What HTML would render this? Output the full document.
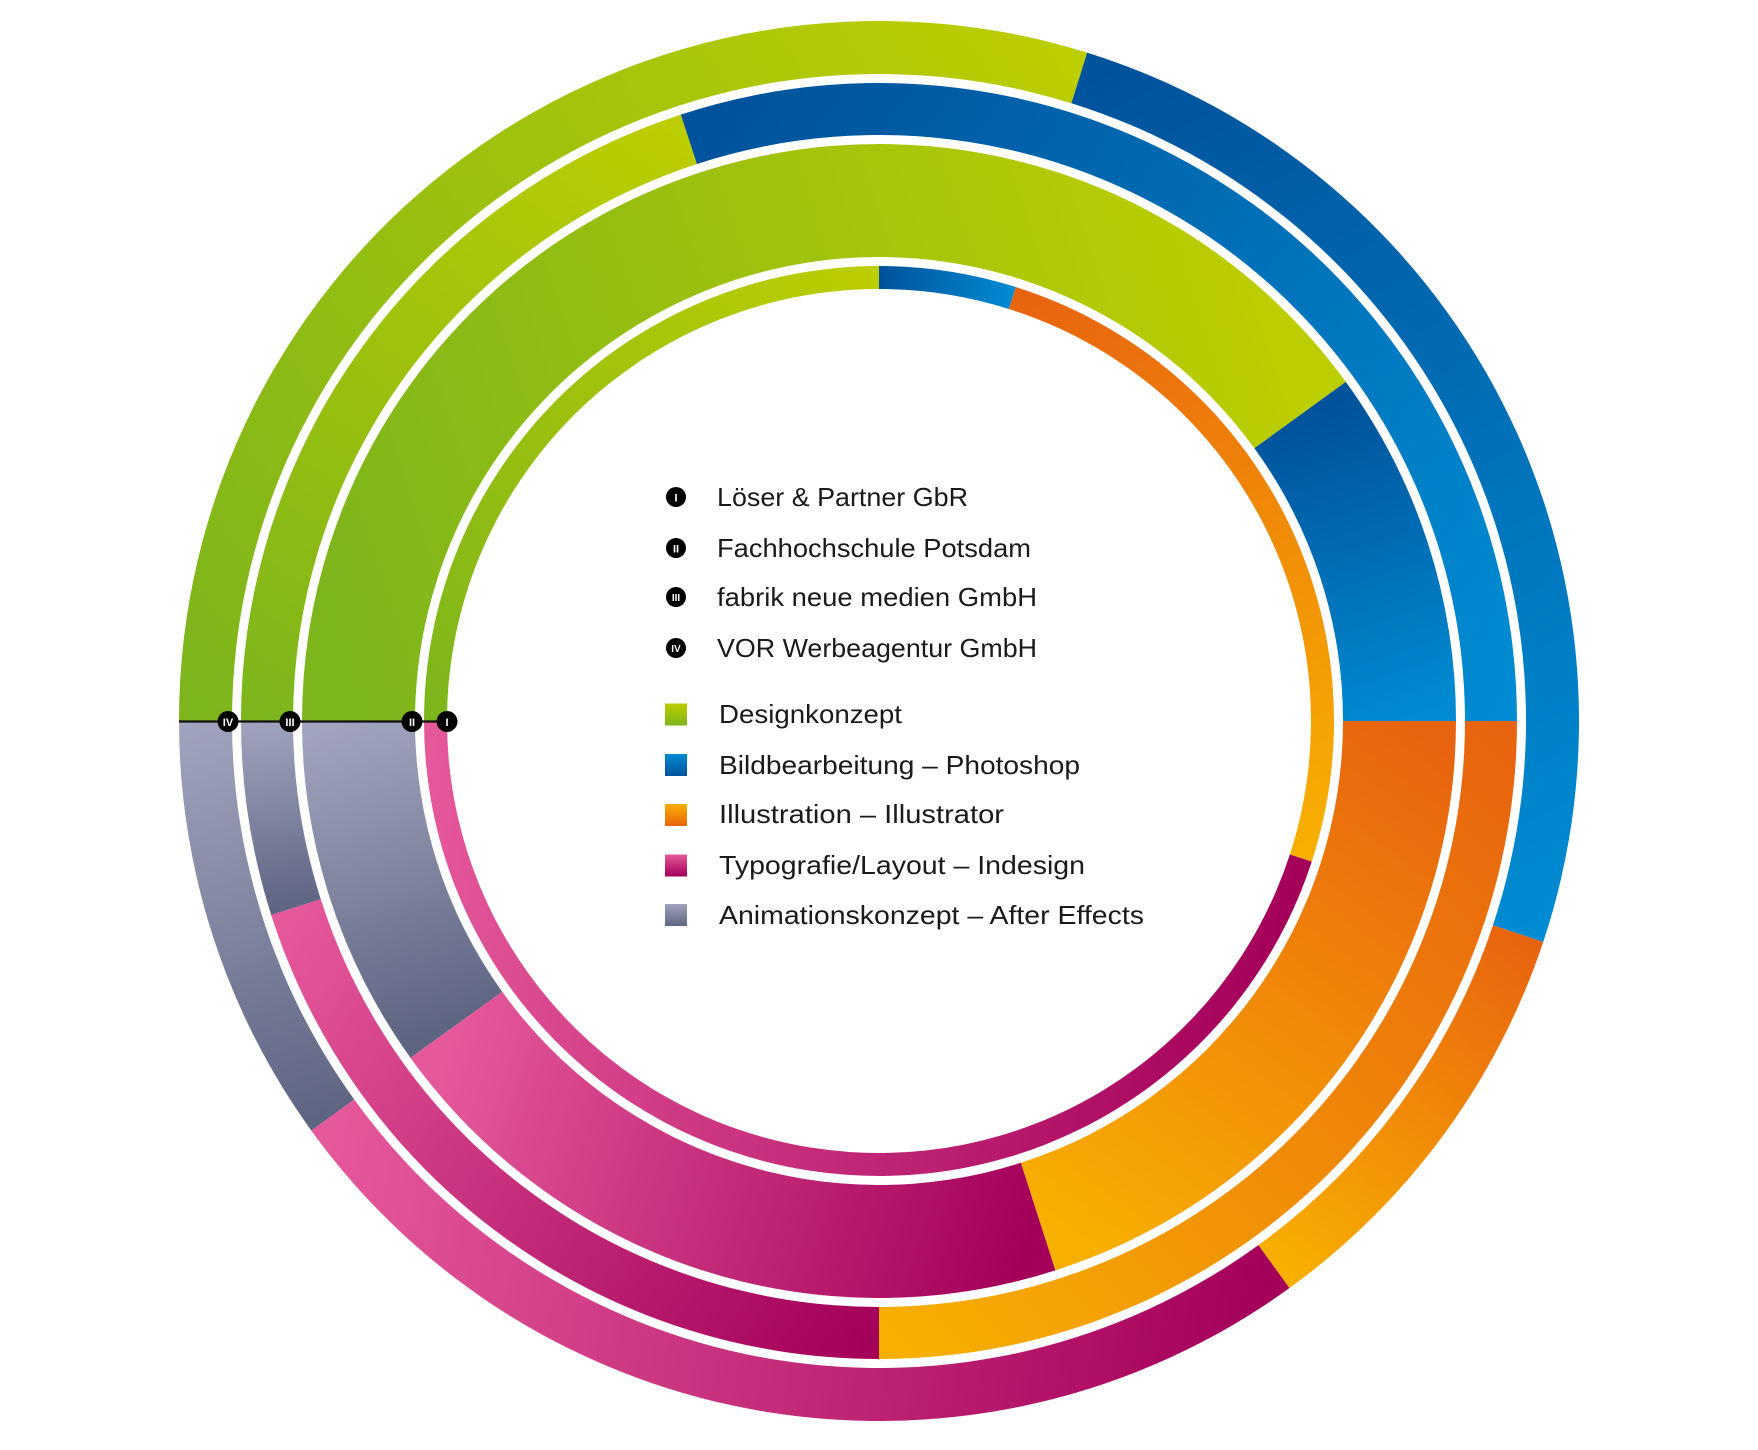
<!DOCTYPE html>
<html><head><meta charset="utf-8"><style>html,body{margin:0;padding:0;background:#fff}svg{display:block}</style></head>
<body>
<svg id="s" width="1758" height="1450" viewBox="0 0 1758 1450" xmlns="http://www.w3.org/2000/svg">
<defs id="d"></defs>
<g id="rings"></g>
<line x1="179" y1="721.5" x2="447" y2="721.5" stroke="#111" stroke-width="2.2"/>
<g font-family="Liberation Sans, sans-serif" font-weight="bold" fill="#fff" text-anchor="middle">
<circle cx="228" cy="721.5" r="10.5" fill="#000"/><text x="228" y="726" font-size="11">IV</text>
<circle cx="290" cy="721.5" r="10.5" fill="#000"/><text x="290" y="726" font-size="11">III</text>
<circle cx="412" cy="721.5" r="10.5" fill="#000"/><text x="412" y="726" font-size="11">II</text>
<circle cx="447" cy="721.5" r="10.5" fill="#000"/><text x="447" y="726" font-size="11">I</text>
<circle cx="676" cy="497" r="10" fill="#000"/><text x="676" y="501.5" font-size="11">I</text>
<circle cx="676" cy="548" r="10" fill="#000"/><text x="676" y="552.5" font-size="11">II</text>
<circle cx="676" cy="597" r="10" fill="#000"/><text x="676" y="601" font-size="10">III</text>
<circle cx="676" cy="648" r="10" fill="#000"/><text x="676" y="652" font-size="10">IV</text>
</g>
<g font-family="Liberation Sans Narrow, Liberation Sans, sans-serif" font-size="26" fill="#1a1a1a">
<text x="717" y="506" textLength="251" lengthAdjust="spacingAndGlyphs">Löser &amp; Partner GbR</text>
<text x="717" y="557" textLength="314" lengthAdjust="spacingAndGlyphs">Fachhochschule Potsdam</text>
<text x="717" y="606" textLength="320" lengthAdjust="spacingAndGlyphs">fabrik neue medien GmbH</text>
<text x="717" y="657" textLength="320" lengthAdjust="spacingAndGlyphs">VOR Werbeagentur GmbH</text>
<text x="719" y="723" textLength="183" lengthAdjust="spacingAndGlyphs">Designkonzept</text>
<text x="719" y="774" textLength="361" lengthAdjust="spacingAndGlyphs">Bildbearbeitung – Photoshop</text>
<text x="719" y="823" textLength="285" lengthAdjust="spacingAndGlyphs">Illustration – Illustrator</text>
<text x="719" y="874" textLength="366" lengthAdjust="spacingAndGlyphs">Typografie/Layout  – Indesign</text>
<text x="719" y="924" textLength="425" lengthAdjust="spacingAndGlyphs">Animationskonzept – After Effects</text>
</g>
<g id="sq"></g>
</svg>
<script>
var cx=879,cy=721,NS="http://www.w3.org/2000/svg";
var C={g:["#7db51c","#bccd00"],b:["#00529b","#008bd2"],o:["#e8630f","#f8b000"],m:["#a4005a","#e5589a"],a:["#5e6582","#a0a3bd"]};
var rings=[
 [432,455,[["g",270,360],["b",0,17.5],["o",17.5,108],["m",108,270]]],
 [464,577,[["g",270,414],["b",54,90],["o",90,162.2],["m",162.2,234.3],["a",234.3,270]]],
 [586,638,[["g",270,341.9],["b",341.9,450],["o",90,180],["m",180,252.3],["a",252.3,270]]],
 [647,700,[["g",270,377.3],["b",17.3,108.4],["o",108.4,144.1],["m",144.1,234.2],["a",234.2,270]]]
];
function pt(r,a){a=a*Math.PI/180;return [cx+r*Math.sin(a),cy-r*Math.cos(a)];}
var defs=document.getElementById('d'),G=document.getElementById('rings'),n=0;
rings.forEach(function(R){var r0=R[0],r1=R[1],rm=(r0+r1)/2;
 R[2].forEach(function(s){var k=s[0],a0=s[1],a1=s[2];
  var p=pt(rm,a0),q=pt(rm,a1);
  var id="gr"+(n++);var lg=document.createElementNS(NS,"linearGradient");
  lg.setAttribute("id",id);lg.setAttribute("gradientUnits","userSpaceOnUse");
  lg.setAttribute("x1",p[0]);lg.setAttribute("y1",p[1]);lg.setAttribute("x2",q[0]);lg.setAttribute("y2",q[1]);
  lg.innerHTML='<stop offset="0" stop-color="'+C[k][0]+'"/><stop offset="1" stop-color="'+C[k][1]+'"/>';
  defs.appendChild(lg);
  var la=(a1-a0)>180?1:0;var A=pt(r1,a0),B=pt(r1,a1),D=pt(r0,a1),E=pt(r0,a0);
  var d="M"+A+"A"+r1+","+r1+" 0 "+la+" 1 "+B+"L"+D+"A"+r0+","+r0+" 0 "+la+" 0 "+E+"Z";
  var path=document.createElementNS(NS,"path");path.setAttribute("d",d);path.setAttribute("fill","url(#"+id+")");
  G.appendChild(path);});});
var sq=document.getElementById('sq');
[["g",714.5],["b",765],["o",815],["m",865.5],["a",915]].forEach(function(x){
 var id="sqg"+x[0];var lg=document.createElementNS(NS,"linearGradient");lg.setAttribute("id",id);
 lg.setAttribute("x1",0);lg.setAttribute("y1",0);lg.setAttribute("x2",0);lg.setAttribute("y2",1);
 lg.innerHTML='<stop offset="0" stop-color="'+C[x[0]][1]+'"/><stop offset="1" stop-color="'+C[x[0]][0]+'"/>';
 defs.appendChild(lg);
 var r=document.createElementNS(NS,"rect");r.setAttribute("x",665);r.setAttribute("y",x[1]-11);r.setAttribute("width",22);r.setAttribute("height",22);r.setAttribute("fill","url(#"+id+")");sq.appendChild(r);});
</script>
</body></html>
